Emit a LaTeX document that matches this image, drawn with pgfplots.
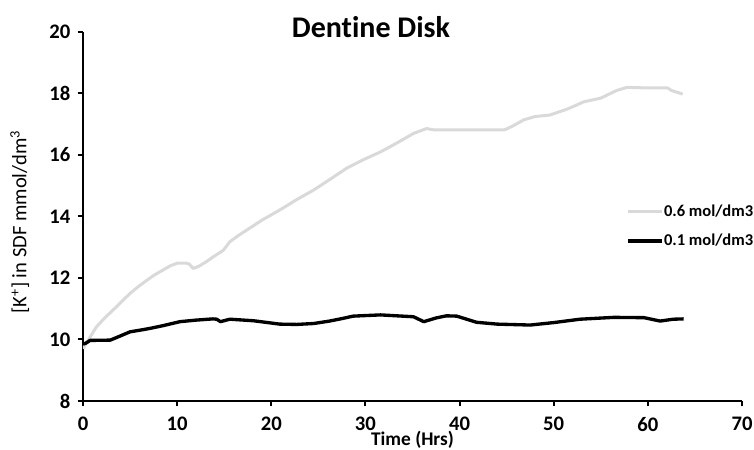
\documentclass[border=0pt]{standalone}
\usepackage{fontspec}
\setmainfont{Carlito}[Ligatures=NoCommon]
\usepackage{pgfplots}
\pgfplotsset{compat=1.18}
\definecolor{lightgr}{RGB}{217,217,217}
\begin{document}
\begin{tikzpicture}
\begin{axis}[
    scale only axis,
    width=494.25pt, height=276.75pt,
    xmin=0, xmax=70, ymin=8, ymax=20,
    xtick={0,10,...,70}, ytick={8,10,...,20},
    axis lines=left,
    axis line style={line width=1.5pt, -},
    tick style={line width=1.5pt, black},
    tickwidth=4pt,
    tick align=outside,
    minor tick num=0,
    /pgf/number format/assume math mode=true,
    ticklabel style={font=\bfseries\fontsize{15.5}{15.5}\selectfont},
    xticklabel style={yshift=-7pt, inner ysep=1pt},
    yticklabel style={xshift=-2pt},
    title={Dentine Disk},
    title style={font=\bfseries\fontsize{22.5}{22.5}\selectfont, at={(axis description cs:0.437,0.991)}, anchor=center},
    xlabel={Time (Hrs)},
    xlabel style={font=\bfseries\fontsize{14.5}{14.5}\selectfont, inner sep=0pt, at={(axis description cs:0.5,-0.104)}, anchor=center},
    ylabel={[K\textsuperscript{+}] in SDF mmol/dm\textsuperscript{3}},
    ylabel style={font=\fontsize{15.4}{15.4}\selectfont, at={(axis description cs:-0.096,0.485)}, anchor=center},
    legend style={draw=none, fill=none, inner sep=0pt, outer sep=0pt,
        at={(axis description cs:0.825,0.474)}, anchor=west,
        font=\bfseries\fontsize{12.4}{12.4}\selectfont, row sep=8pt,
        /tikz/every odd column/.style={column sep=0pt},
        nodes={inner xsep=0.5pt}},
    legend image code/.code={\draw[#1] (0pt,0pt) -- (25pt,0pt);},
    legend cell align=left,
    every axis plot/.append style={line join=round},
]
\addplot[lightgr, line width=2.25pt] coordinates {
(0,9.70)(0.3,9.85)(1,10.2)(1.45,10.42)(2.3,10.7)(3.2,10.96)(4,11.2)(5,11.5)(6,11.75)
(6.8,11.93)(7.6,12.1)(8.5,12.26)(9.3,12.4)(10,12.48)(11,12.48)(11.3,12.45)(11.7,12.31)
(12.3,12.38)(13.1,12.53)(13.85,12.69)(14.9,12.9)(15.6,13.18)(16.5,13.38)(17.4,13.56)
(19,13.88)(20.9,14.21)(22.7,14.55)(24.5,14.86)(26.3,15.22)(28,15.57)(29.8,15.85)
(31.6,16.1)(33.4,16.4)(35.1,16.7)(36.5,16.86)(37.2,16.82)(40,16.82)(43,16.82)
(44.8,16.82)(45.7,16.95)(46.8,17.14)(48,17.25)(49.6,17.3)(51.5,17.5)(53.2,17.73)
(55,17.85)(56.7,18.1)(57.8,18.2)(60,18.18)(62.1,18.18)(62.5,18.1)(63,18.05)(63.7,17.98)
};
\addlegendentry{0.6 mol/dm3}
\addplot[black, line width=2.5pt] coordinates {
(0,9.85)(0.3,9.88)(0.75,9.97)(2.9,9.98)(4,10.12)(5,10.25)(6,10.3)(7.1,10.36)(8.5,10.45)
(10.3,10.58)(12,10.63)(13.8,10.67)(14.2,10.66)(14.6,10.58)(15.6,10.66)(18.1,10.61)
(20.9,10.50)(22.7,10.49)(24.5,10.52)(26.2,10.6)(27.5,10.68)(28.7,10.76)(31.6,10.8)
(35.1,10.74)(36.2,10.58)(37.5,10.7)(38.6,10.77)(39.7,10.76)(41.8,10.56)(44,10.5)
(47.5,10.47)(50,10.55)(52.8,10.66)(56.4,10.72)(59.6,10.71)(61.3,10.6)(62.7,10.66)(63.8,10.67)
};
\addlegendentry{0.1 mol/dm3}
\end{axis}
\pgfresetboundingbox
\useasboundingbox (current axis.origin) ++(-62.25pt,-36.75pt) rectangle ++(565.5pt,337.5pt);
\end{tikzpicture}
\end{document}
